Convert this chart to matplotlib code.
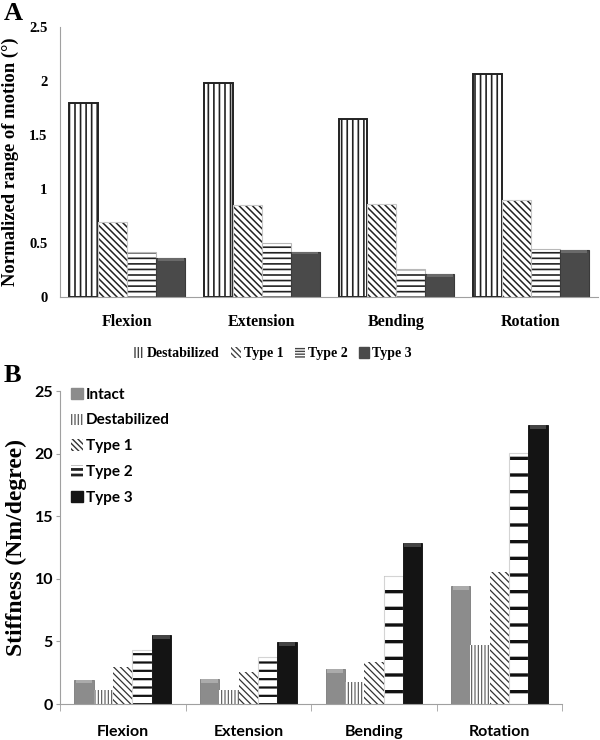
import numpy as np
import matplotlib.pyplot as plt
from matplotlib.patches import Patch

SERIF = ['Liberation Serif', 'DejaVu Serif']
SANS = ['Lato', 'DejaVu Sans']

motions = ['Flexion', 'Extension', 'Bending', 'Rotation']

# panel A: normalized range of motion (deg)
rom_destab = [1.80, 1.98, 1.65, 2.06]
rom_type1 = [0.69, 0.85, 0.86, 0.90]
rom_type2 = [0.42, 0.50, 0.26, 0.44]
rom_type3 = [0.36, 0.42, 0.21, 0.435]

# panel B: stiffness (Nm/degree)
stiff_intact = [1.95, 2.02, 2.80, 9.40]
stiff_destab = [1.15, 1.15, 1.75, 4.70]
stiff_type1 = [2.93, 2.54, 3.32, 10.57]
stiff_type2 = [4.35, 3.75, 10.26, 20.05]
stiff_type3 = [5.50, 4.97, 12.87, 22.30]


def hatch_lw(bars, lw):
    for b in bars:
        if hasattr(b, 'set_hatch_linewidth'):
            b.set_hatch_linewidth(lw)


def outline(ax, xs, vals, width, color):
    ax.bar(xs, vals, width, fill=False, edgecolor=color, linewidth=0.8)


def cap(ax, xs, vals, width, color, h):
    v = np.asarray(vals)
    ax.bar(xs, h, width, bottom=v - h, color=color, linewidth=0)


fig = plt.figure(figsize=(6, 7.4), dpi=100)
x = np.arange(len(motions))

# ---------------- A ----------------
axA = fig.add_axes([0.1, 0.5986, 0.897, 0.365])
w = 0.215
b = axA.bar(x - 1.5 * w, rom_destab, w, color='white', edgecolor='#222222',
            linewidth=1.4, hatch='|||')
hatch_lw(b, 1.2)
b = axA.bar(x - 0.5 * w, rom_type1, w, color='white', edgecolor='#222222',
            linewidth=0, hatch='\\\\\\\\\\')
hatch_lw(b, 1.1)
outline(axA, x - 0.5 * w, rom_type1, w, '#c8c8c8')
b = axA.bar(x + 0.5 * w, rom_type2, w, color='white', edgecolor='#222222',
            linewidth=0, hatch='---')
hatch_lw(b, 1.2)
outline(axA, x + 0.5 * w, rom_type2, w, '#b8b8b8')
axA.bar(x + 1.5 * w, rom_type3, w, color='#4a4a4a', edgecolor='#3a3a3a',
        linewidth=0.8)
cap(axA, x + 1.5 * w, rom_type3, w * 0.9, '#6a6a6a', 0.025)

axA.set_xlim(-0.5, 3.5)
axA.set_ylim(0, 2.5)
axA.set_yticks([0, 0.5, 1, 1.5, 2, 2.5])
axA.set_yticklabels(['0', '0.5', '1', '1.5', '2', '2.5'])
axA.set_xticks(x)
axA.set_xticklabels(motions)
axA.tick_params(axis='y', length=0, pad=9)
axA.tick_params(axis='x', length=0, pad=12)
for lab in axA.get_xticklabels() + axA.get_yticklabels():
    lab.set_family(SERIF)
    lab.set_fontweight('bold')
for lab in axA.get_xticklabels():
    lab.set_fontsize(11.5)
for lab in axA.get_yticklabels():
    lab.set_fontsize(10.5)
axA.set_ylabel('Normalized range of motion (°)', family=SERIF,
               fontweight='bold', fontsize=13.4, labelpad=7)
for s in ['top', 'right']:
    axA.spines[s].set_visible(False)
for s in ['left', 'bottom']:
    axA.spines[s].set_color('#a0a0a0')

handlesA = [
    Patch(facecolor='white', edgecolor='#444444', linewidth=0, hatch='|||||'),
    Patch(facecolor='white', edgecolor='#444444', linewidth=0,
          hatch='\\\\\\\\\\\\'),
    Patch(facecolor='white', edgecolor='#444444', linewidth=0, hatch='------'),
    Patch(facecolor='#4a4a4a', edgecolor='#4a4a4a'),
]
fig.legend(handlesA, ['Destabilized', 'Type 1', 'Type 2', 'Type 3'],
           loc='center', bbox_to_anchor=(0.455, 0.522), ncol=4, frameon=False,
           handlelength=0.7, handleheight=0.9, handletextpad=0.25,
           columnspacing=0.8,
           prop={'family': SERIF, 'weight': 'bold', 'size': 10})

fig.text(0.006, 0.997, 'A', family=SERIF, fontweight='bold', fontsize=19,
         va='top', ha='left')
fig.text(0.006, 0.508, 'B', family=SERIF, fontweight='bold', fontsize=19,
         va='top', ha='left')

# ---------------- B ----------------
axB = fig.add_axes([0.1, 0.0486, 0.837, 0.423])
w = 0.154
axB.bar(x - 2 * w, stiff_intact, w, color='#8c8c8c', edgecolor='#7a7a7a',
        linewidth=0.6)
cap(axB, x - 2 * w, stiff_intact, w * 0.85, '#ababab', 0.3)
b = axB.bar(x - w, stiff_destab, w, color='white', edgecolor='#555555',
            linewidth=0, hatch='|||||')
hatch_lw(b, 0.8)
b = axB.bar(x, stiff_type1, w, color='white', edgecolor='#333333',
            linewidth=0, hatch='\\\\\\\\\\')
hatch_lw(b, 0.9)
type2_hatch = ['--', '--', '-', '-']
for i in range(len(motions)):
    b = axB.bar(x[i] + w, stiff_type2[i], w, color='white',
                edgecolor='#111111', linewidth=0, hatch=type2_hatch[i])
    hatch_lw(b, 2.4 if type2_hatch[i] == '-' else 1.6)
outline(axB, x + w, stiff_type2, w, '#d4d4d4')
axB.bar(x + 2 * w, stiff_type3, w, color='#141414', edgecolor='#0a0a0a',
        linewidth=0.6)
cap(axB, x + 2 * w, stiff_type3, w * 0.85, '#444444', 0.3)

axB.set_xlim(-0.5, 3.5)
axB.set_ylim(0, 25)
axB.set_yticks([0, 5, 10, 15, 20, 25])
axB.set_xticks(x)
axB.set_xticklabels(motions)
axB.set_xticks(np.arange(-0.5, 4, 1), minor=True)
axB.tick_params(axis='y', length=3, pad=2, color='#a0a0a0')
axB.tick_params(axis='x', which='major', length=0, pad=15)
axB.tick_params(axis='x', which='minor', length=5, color='#a0a0a0')
for lab in axB.get_xticklabels() + axB.get_yticklabels():
    lab.set_family(SANS)
    lab.set_fontweight('bold')
    lab.set_fontsize(11.5)
axB.set_ylabel('Stiffness (Nm/degree)', family=SERIF, fontweight='bold',
               fontsize=17, labelpad=5)
for s in ['top', 'right']:
    axB.spines[s].set_visible(False)
for s in ['left', 'bottom']:
    axB.spines[s].set_color('#a0a0a0')

handlesB = [
    Patch(facecolor='#8c8c8c', edgecolor='#8c8c8c'),
    Patch(facecolor='white', edgecolor='#666666', linewidth=0, hatch='|||||'),
    Patch(facecolor='white', edgecolor='#333333', linewidth=0,
          hatch='\\\\\\\\\\\\'),
    Patch(facecolor='white', edgecolor='#222222', linewidth=0, hatch='---'),
    Patch(facecolor='#141414', edgecolor='#141414'),
]
legB = axB.legend(handlesB, ['Intact', 'Destabilized', 'Type 1', 'Type 2',
                             'Type 3'],
                  loc='upper left', bbox_to_anchor=(-0.005, 1.055),
                  frameon=False, handlelength=0.75, handleheight=0.75,
                  handletextpad=0.2, labelspacing=0.78,
                  prop={'family': SANS, 'weight': 'bold', 'size': 11})
hatch_lw(legB.get_patches()[3:4], 2.0)

fig.savefig('out.png', dpi=100)
